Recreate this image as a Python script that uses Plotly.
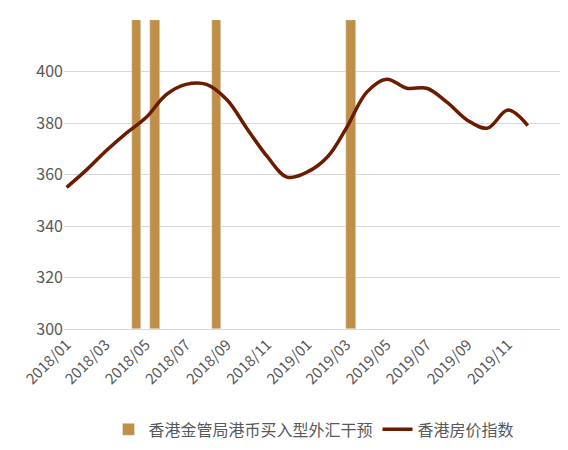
import plotly.graph_objects as go

months = ["2018-01-01", "2018-02-01", "2018-03-01", "2018-04-01", "2018-05-01", "2018-06-01",
          "2018-07-01", "2018-08-01", "2018-09-01", "2018-10-01", "2018-11-01", "2018-12-01",
          "2019-01-01", "2019-02-01", "2019-03-01", "2019-04-01", "2019-05-01", "2019-06-01",
          "2019-07-01", "2019-08-01", "2019-09-01", "2019-10-01", "2019-11-01", "2019-12-01"]
price_index = [355, 362, 369, 376, 382, 391, 395, 395, 389, 378, 367, 359,
               361, 367, 378, 392, 397, 393.5, 393.5, 388, 381, 378, 385, 379]

intervention_dates = ["2018-04-17", "2018-05-15", "2018-08-16", "2019-03-08"]
intervention_base = 300
intervention_top = [420, 420, 420, 420]

fig = go.Figure()
fig.add_trace(go.Bar(
    x=intervention_dates, y=[t - intervention_base for t in intervention_top],
    base=intervention_base, width=14 * 86400000,
    marker_color="#BF8F47", name="香港金管局港币买入型外汇干预"))
fig.add_trace(go.Scatter(
    x=months, y=price_index, mode="lines", line_shape="spline",
    line=dict(color="#6B1C00", width=3.5), name="香港房价指数"))

fig.update_layout(
    width=568, height=450,
    margin=dict(l=50, r=12, t=12, b=70),
    plot_bgcolor="white", paper_bgcolor="white",
    font=dict(family="Noto Sans CJK SC", size=15, color="#595959"),
    legend=dict(orientation="h", x=0.5, xanchor="center", y=-0.27, yanchor="top",
                font=dict(size=16)),
    xaxis=dict(type="date", range=["2017-12-28", "2020-01-25"],
               tickvals=months[::2], tickformat="%Y/%m", tickangle=-45,
               showgrid=False, showline=True, linecolor="#D9D9D9"),
    yaxis=dict(range=[300, 420], dtick=20, gridcolor="#D9D9D9",
               zeroline=False, tickfont=dict(size=16)),
    bargap=0,
)
fig.write_html("out.html")
